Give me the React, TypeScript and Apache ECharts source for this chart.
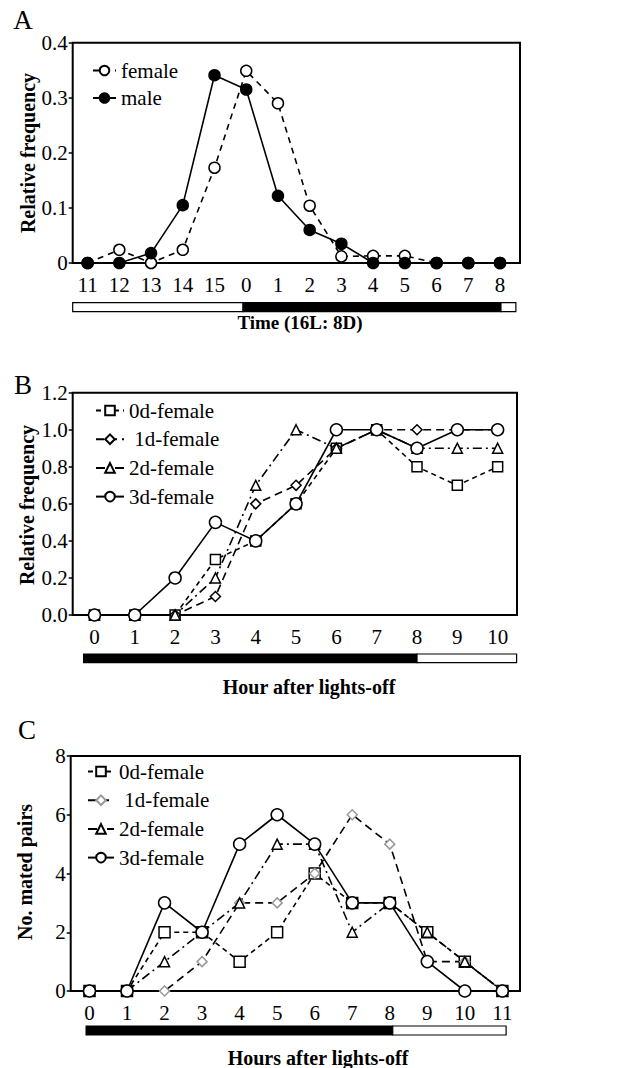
import React, { useEffect, useRef } from "react";
import * as echarts from "echarts";

// ---------- data ----------
const timeLabelsA = ["11", "12", "13", "14", "15", "0", "1", "2", "3", "4", "5", "6", "7", "8"];
const femaleA = [0, 0.024, 0, 0.024, 0.173, 0.349, 0.29, 0.104, 0.012, 0.013, 0.013, 0, 0, 0];
const maleA = [0, 0, 0.018, 0.105, 0.341, 0.315, 0.122, 0.06, 0.035, 0, 0, 0, 0, 0];

const hourLabelsB = ["0", "1", "2", "3", "4", "5", "6", "7", "8", "9", "10"];
const b0d = [0, 0, 0, 0.3, 0.4, 0.6, 0.9, 1.0, 0.8, 0.7, 0.8];
const b1d = [0, 0, 0, 0.1, 0.6, 0.7, 0.9, 1.0, 1.0, 1.0, 1.0];
const b2d = [0, 0, 0, 0.2, 0.7, 1.0, 0.9, 1.0, 0.9, 0.9, 0.9];
const b3d = [0, 0, 0.2, 0.5, 0.4, 0.6, 1.0, 1.0, 0.9, 1.0, 1.0];

const hourLabelsC = ["0", "1", "2", "3", "4", "5", "6", "7", "8", "9", "10", "11"];
const c0d = [0, 0, 2, 2, 1, 2, 4, 3, 3, 2, 1, 0];
const c1d = [0, 0, 0, 1, 3, 3, 4, 6, 5, 1, 1, 0];
const c2d = [0, 0, 1, 2, 3, 5, 5, 2, 3, 2, 1, 0];
const c3d = [0, 0, 3, 2, 5, 6, 5, 3, 3, 1, 0, 0];

// light/dark schedule bars: [start, end, dark(1)/light(0)] in x-axis index units
const photoA = [[-0.47, 4.9, 0], [4.9, 13.03, 1], [13.03, 13.5, 0]];
const photoB = [[-0.27, 8, 1], [8, 10.47, 0]];
const photoC = [[-0.09, 8.08, 1], [8.08, 11.1, 0]];

const FONT = '"Liberation Serif", "Times New Roman", serif';

const grids = [
  { left: 72.7, right: 99, top: 42.7, height: 220.3, xmin: -0.47, xmax: 13.63 },
  { left: 72.7, right: 102, top: 392.7, height: 222.3, xmin: -0.54, xmax: 10.48 },
  { left: 70.7, right: 99, top: 756, height: 235, xmin: -0.5, xmax: 11.47 },
];
const barGrids = [
  { top: 302.7, height: 9 },
  { top: 654, height: 8.7 },
  { top: 1026, height: 9 },
];

function buildOption() {
  const labelSets = [timeLabelsA, hourLabelsB, hourLabelsC];
  const yCfg = [
    { max: 0.4, interval: 0.1, fmt: (v: number) => (v === 0 ? "0" : v.toFixed(1)) },
    { max: 1.2, interval: 0.2, fmt: (v: number) => v.toFixed(1) },
    { max: 8, interval: 2, fmt: (v: number) => String(v) },
  ];
  const grid: any[] = [];
  const xAxis: any[] = [];
  const yAxis: any[] = [];
  grids.forEach((g, i) => {
    grid.push({
      left: g.left, right: g.right, top: g.top, height: g.height,
      show: true, borderColor: "#000", borderWidth: 2, backgroundColor: "#fff",
    });
    const labels = labelSets[i];
    xAxis.push({
      type: "value", gridIndex: i, min: g.xmin, max: g.xmax,
      axisLine: { show: false, onZero: false }, axisTick: { show: false }, splitLine: { show: false },
      axisLabel: {
        customValues: labels.map((_, k) => k),
        formatter: (v: number) => labels[Math.round(v)],
        fontSize: 21, color: "#000", fontFamily: FONT, margin: 11,
      },
    });
    yAxis.push({
      type: "value", gridIndex: i, min: 0, max: yCfg[i].max, interval: yCfg[i].interval,
      axisLine: { show: false, onZero: false }, splitLine: { show: false },
      axisTick: { show: true, inside: false, length: 4, lineStyle: { color: "#000", width: 1.5 } },
      axisLabel: { formatter: yCfg[i].fmt, fontSize: 21, color: "#000", fontFamily: FONT, margin: 5 },
    });
  });
  barGrids.forEach((b, i) => {
    const g = grids[i];
    grid.push({ left: g.left, right: g.right, top: b.top, height: b.height, show: false });
    xAxis.push({ type: "value", gridIndex: 3 + i, min: g.xmin, max: g.xmax, show: false });
    yAxis.push({ type: "value", gridIndex: 3 + i, min: 0, max: 1, show: false });
  });

  const mk = (name: string, gi: number, vals: number[], symbol: string, size: number, dash: any, opts: any = {}) => ({
    type: "line", name, xAxisIndex: gi, yAxisIndex: gi,
    data: vals.map((v, k) => [k, v]),
    symbol, symbolSize: size, showSymbol: true,
    lineStyle: { color: "#000", width: 1.6, type: dash },
    itemStyle: { color: opts.fill || "#fff", borderColor: opts.border || "#000", borderWidth: 1.5 },
    emphasis: { disabled: true },
    z: opts.z || 2,
  });

  const series: any[] = [
    mk("A|female", 0, femaleA, "circle", 11, [6, 5]),
    mk("A|male", 0, maleA, "circle", 11, "solid", { fill: "#000" }),
    mk("B|0d-female", 1, b0d, "rect", 10, [5, 4]),
    mk("B|1d-female", 1, b1d, "diamond", 10, [8, 5]),
    mk("B|2d-female", 1, b2d, "triangle", 10, [9, 4, 2, 4]),
    mk("B|3d-female", 1, b3d, "circle", 12, "solid"),
    mk("C|0d-female", 2, c0d, "rect", 11, [5, 4]),
    mk("C|1d-female", 2, c1d, "diamond", 10, [8, 5], { border: "#999" }),
    mk("C|2d-female", 2, c2d, "triangle", 10, [9, 4, 2, 4]),
    mk("C|3d-female", 2, c3d, "circle", 12, "solid"),
  ];

  [photoA, photoB, photoC].forEach((ph, i) => {
    series.push({
      type: "custom", xAxisIndex: 3 + i, yAxisIndex: 3 + i, silent: true,
      data: ph,
      encode: { x: [0, 1] },
      renderItem: (params: any, api: any) => {
        const s = api.coord([api.value(0), 0]);
        const e = api.coord([api.value(1), 1]);
        return {
          type: "rect",
          shape: { x: s[0], y: e[1], width: e[0] - s[0], height: s[1] - e[1] },
          style: { fill: api.value(2) ? "#000" : "#fff", stroke: "#000", lineWidth: 1.2 },
        };
      },
    });
  });

  const legendBase = {
    orient: "vertical", itemWidth: 24, itemHeight: 12, selectedMode: false, padding: 0,
    formatter: (n: string) => {
      const t = n.split("|")[1];
      return t.startsWith("1d") ? " " + t : t;
    },
    textStyle: { fontSize: 21, color: "#000", fontFamily: FONT },
  };
  const legend = [
    { ...legendBase, data: ["A|female", "A|male"], left: 92, top: 60, itemGap: 6.5, itemWidth: 23 },
    { ...legendBase, data: ["B|0d-female", "B|1d-female", "B|2d-female", "B|3d-female"], left: 95, top: 400, itemGap: 7.7, itemWidth: 28 },
    { ...legendBase, data: ["C|0d-female", "C|1d-female", "C|2d-female", "C|3d-female"], left: 87, top: 761, itemGap: 7.7, itemWidth: 26 },
  ];

  const txt = (text: string, x: number, y: number, size: number, bold: boolean, rot = 0) => ({
    type: "text", x, y, rotation: rot, silent: true,
    style: {
      text, fill: "#000", fontSize: size, fontFamily: FONT, fontWeight: bold ? "bold" : "normal",
      textAlign: "center", textVerticalAlign: "middle",
    },
  });
  const graphic = [
    txt("A", 23, 20, 27, false),
    txt("B", 23, 385, 27, false),
    txt("C", 27, 730, 27, false),
    txt("Relative frequency", 28, 153, 20, true, Math.PI / 2),
    txt("Relative frequency", 27, 505, 20, true, Math.PI / 2),
    txt("No. mated pairs", 25, 872, 20, true, Math.PI / 2),
    txt("Time (16L: 8D)", 300, 322, 19, true),
    txt("Hour after lights-off", 309, 687, 20, true),
    txt("Hours after lights-off", 318, 1058, 20, true),
  ];

  return { animation: false, backgroundColor: "#fff", grid, xAxis, yAxis, series, legend, graphic };
}

export default function App() {
  const ref = useRef<HTMLDivElement>(null);
  useEffect(() => {
    document.body.style.margin = "0";
    const chart = echarts.init(ref.current!, null, { renderer: "svg" });
    chart.setOption(buildOption() as any);
    return () => chart.dispose();
  }, []);
  return <div ref={ref} style={{ width: 619, height: 1068 }} />;
}
